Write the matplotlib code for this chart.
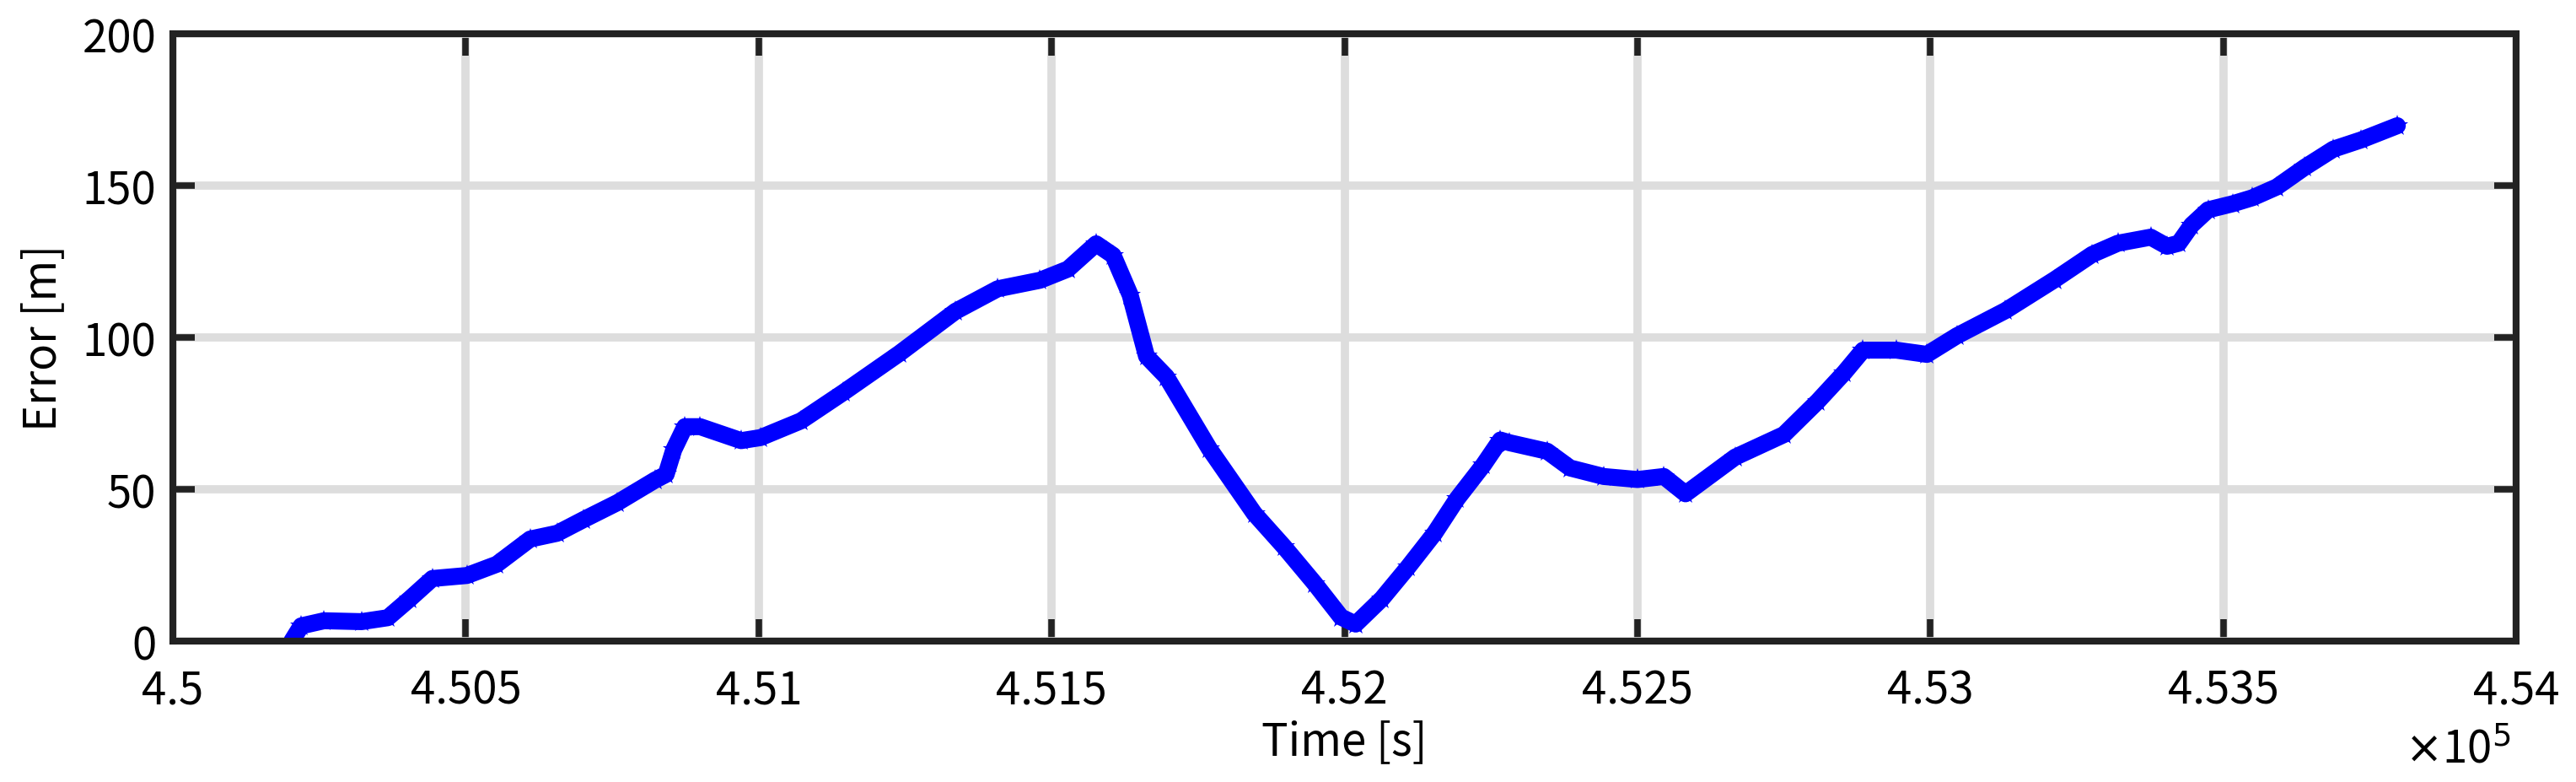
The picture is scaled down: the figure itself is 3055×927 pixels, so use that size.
import matplotlib.pyplot as plt

#font close to the japanese gothic used in the original figure
plt.rcParams['font.family'] = ['Noto Sans CJK JP', 'DejaVu Sans']

#time [s] and position error [m]
time_s = [450203, 450219, 450258, 450322, 450367, 450405, 450443, 450502, 450553, 450610,
          450656, 450701, 450759, 450823, 450842, 450855, 450874, 450900, 450970, 451003,
          451072, 451144, 451240, 451336, 451408, 451480, 451528, 451576, 451605, 451634,
          451662, 451696, 451769, 451846, 451897, 451949, 451994, 452019, 452064, 452109,
          452154, 452192, 452237, 452266, 452282, 452346, 452385, 452442, 452500, 452545,
          452582, 452667, 452750, 452808, 452853, 452885, 452942, 452994, 453045, 453128,
          453212, 453276, 453320, 453376, 453404, 453424, 453446, 453474, 453516, 453550,
          453591, 453639, 453688, 453735, 453797]
error_m = [0, 5, 6.7, 6.4, 7.7, 14, 20.6, 21.6, 25.3, 33.6,
           35.5, 40, 45.6, 53, 54.9, 63, 70.6, 70.6, 66, 67,
           72.5, 81.8, 94.7, 108.6, 116, 118.8, 122.5, 130.8, 127, 114,
           93.8, 87, 63.4, 42, 31, 19, 7.9, 5.6, 14, 24.5,
           35.6, 46.8, 58, 66.2, 65.3, 62.5, 57, 54.2, 53.2, 54.2,
           48.5, 60.6, 68, 79, 88.4, 95.8, 95.8, 94.4, 100.5, 108.8,
           119, 127.3, 131, 133, 130, 131, 137, 142, 144, 146,
           149.5, 156, 162, 165, 169.7]

x_ticks = [450000, 450500, 451000, 451500, 452000, 452500, 453000, 453500, 454000]
x_tick_labels = ['4.5', '4.505', '4.51', '4.515', '4.52', '4.525', '4.53', '4.535', '4.54']
y_ticks = [0, 50, 100, 150, 200]

fig = plt.figure(figsize=(30.55, 9.28), dpi=100)
ax = fig.add_axes([0.0671, 0.1800, 0.9097, 0.7759])

#thick blue trace like the dense marker band in the original
ax.plot(time_s, error_m, color='blue', linewidth=14.5, solid_capstyle='round',
        solid_joinstyle='round', zorder=3)
ax.plot(time_s, error_m, linestyle='none', marker='*', markersize=19, markeredgewidth=0,
        color='blue', zorder=4)

ax.set_xlim(450000, 454000)
ax.set_ylim(0, 200)
ax.set_xticks(x_ticks)
ax.set_xticklabels(x_tick_labels)
ax.set_yticks(y_ticks)

#matlab style box: ticks inside on all four sides
ax.tick_params(direction='in', length=19, width=5.5, color='#222222', labelsize=38,
               top=True, right=True, pad=14)
ax.tick_params(axis='x', pad=22)
for side in ax.spines.values():
    side.set_linewidth(5.8)
    side.set_color('#222222')
    side.set_zorder(5)

ax.grid(True, color='#dddddd', linewidth=7, zorder=0)
ax.set_axisbelow(True)

ax.set_xlabel('Time [s]', fontsize=38, labelpad=4)
ax.set_ylabel('Error [m]', fontsize=38, labelpad=14)

#exponent note under the last tick
fig.text(0.9335, 0.012, r'$\times$10$^{5}$', fontsize=38, ha='left', va='bottom')

plt.savefig('out.png', dpi=100)
